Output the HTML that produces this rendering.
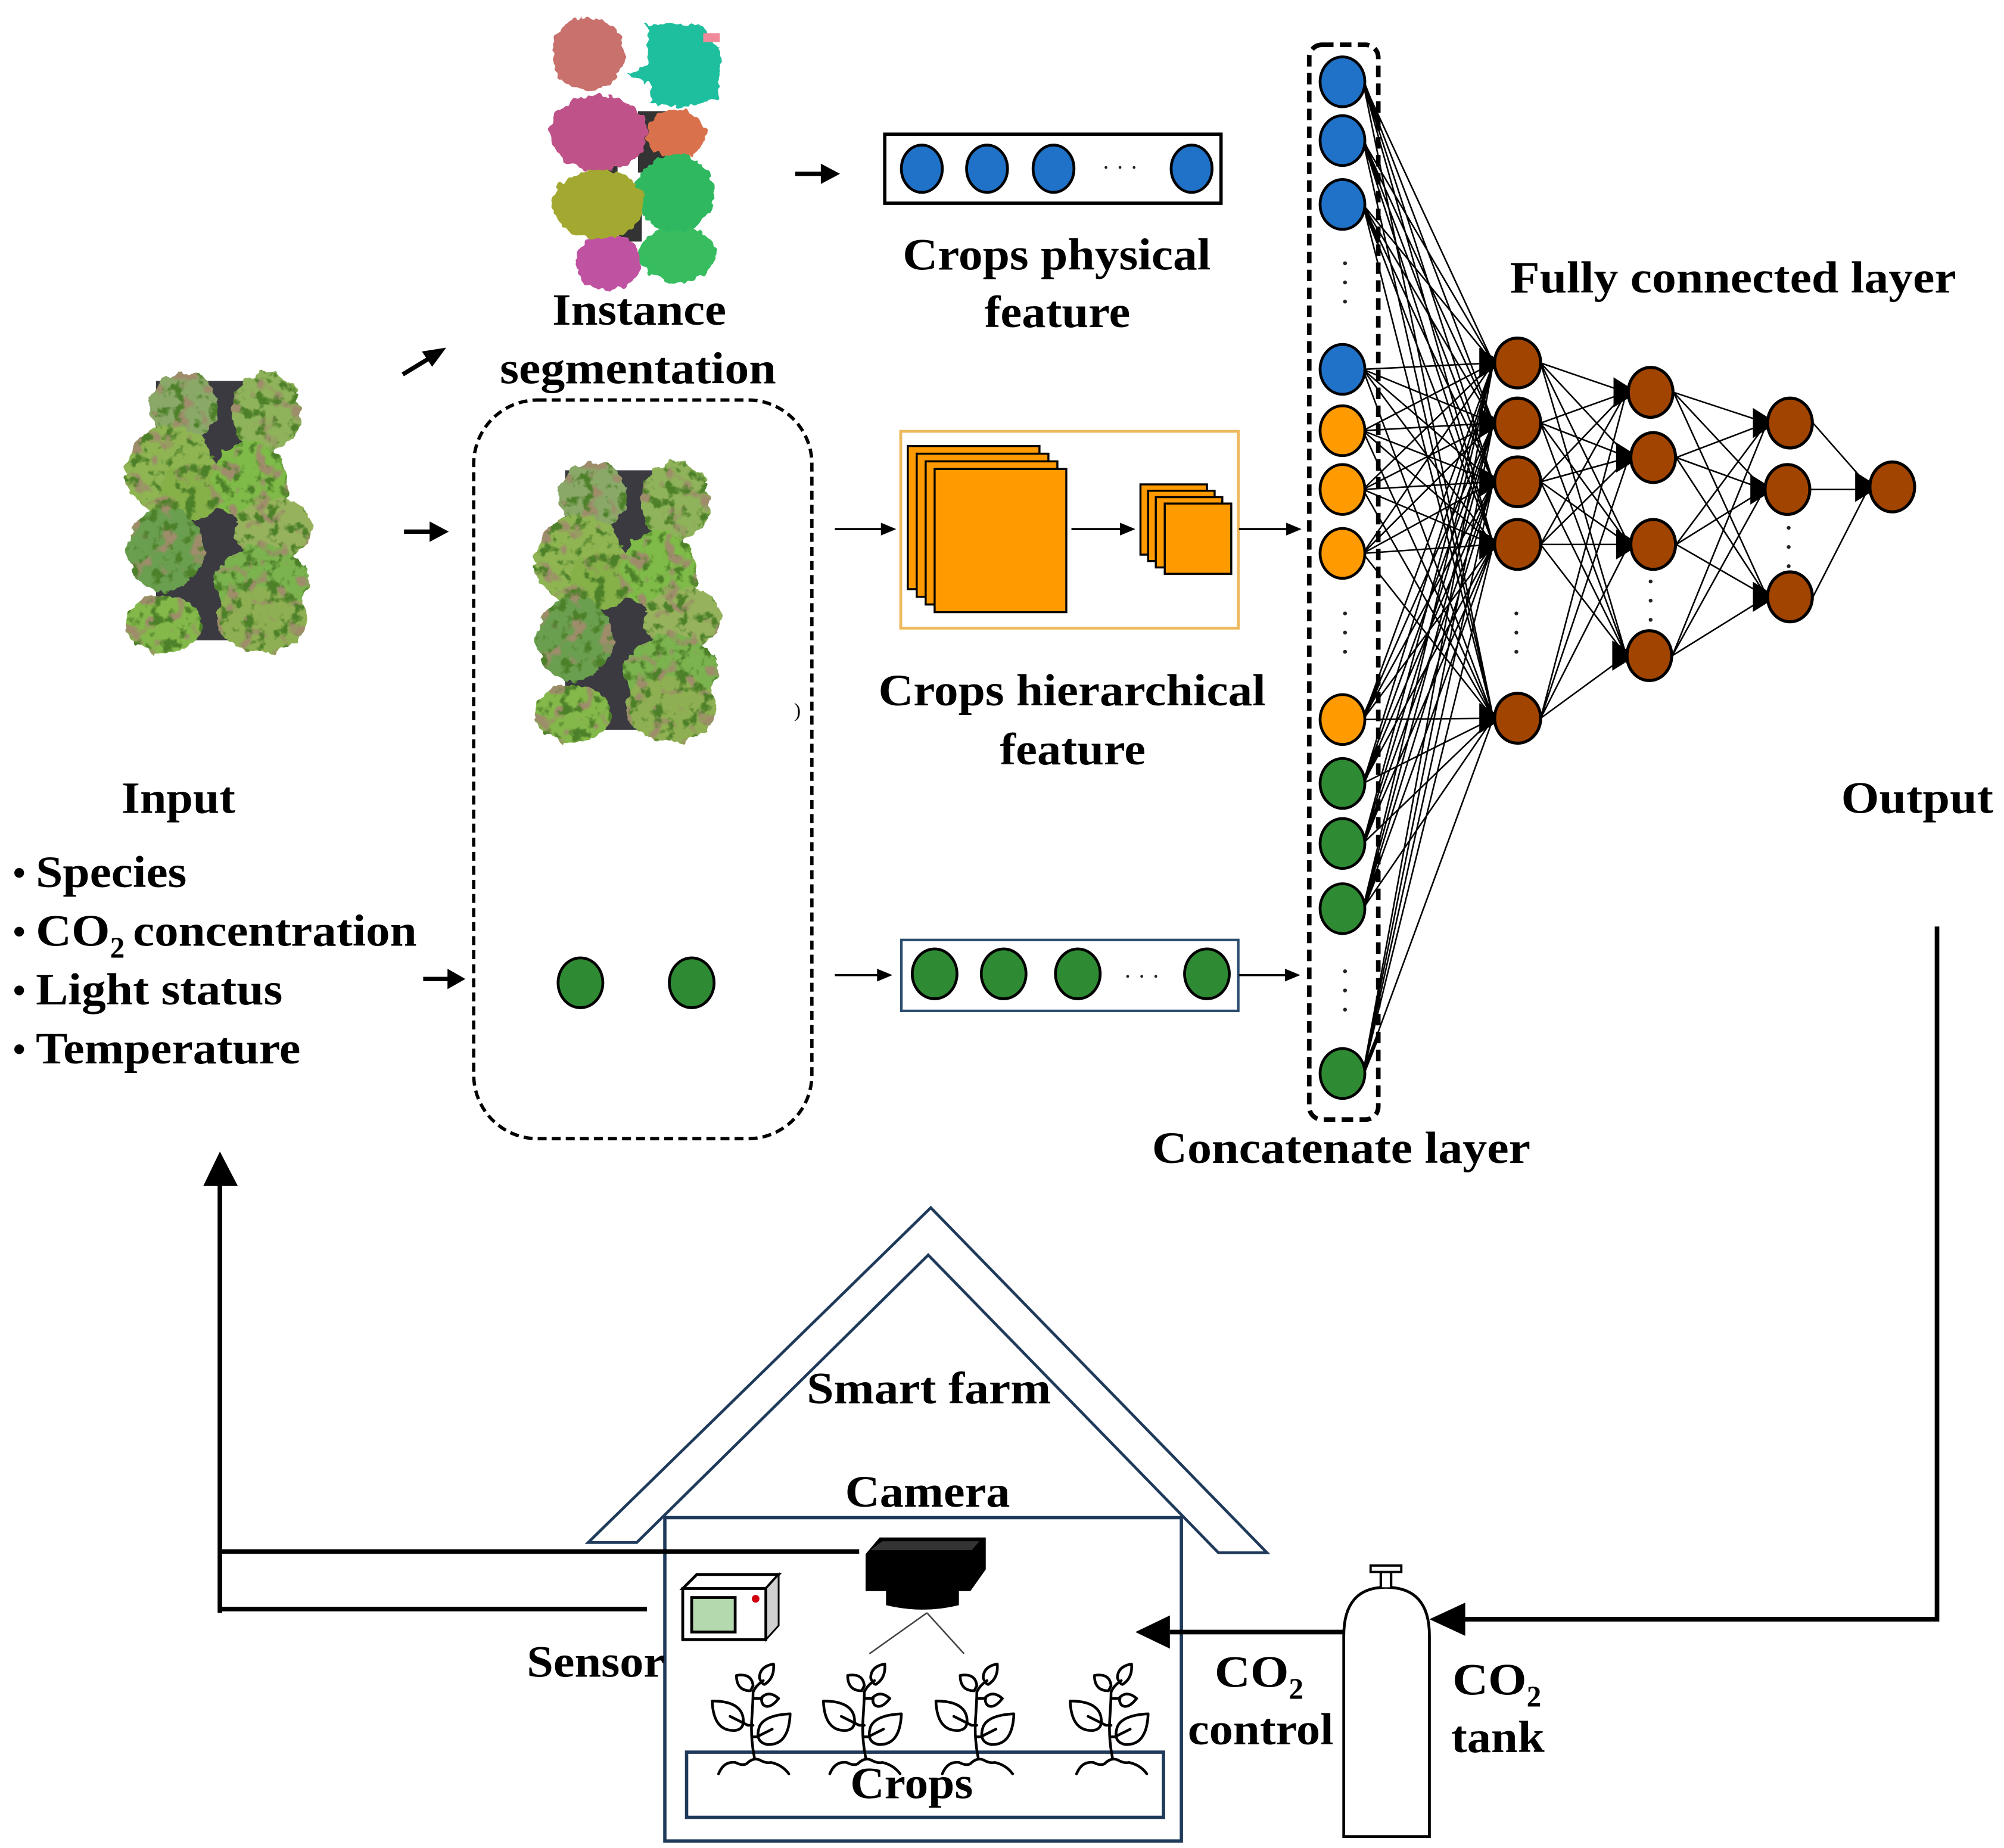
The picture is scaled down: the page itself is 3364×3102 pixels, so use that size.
<!DOCTYPE html>
<html><head><meta charset="utf-8"><style>
html,body{margin:0;padding:0;background:#fff}
svg{display:block}
text{font-family:"Liberation Serif",serif;font-weight:bold;font-size:35px;fill:#000}
.t{stroke:#000;stroke-width:3.6;fill:none}
.n{stroke:#000;stroke-width:1.2;fill:none}
.b{fill:#1f72c8;stroke:#000;stroke-width:2.2}
.o{fill:#ff9a00;stroke:#000;stroke-width:2.2}
.g{fill:#2f8a34;stroke:#000;stroke-width:2.2}
.r{fill:#a04400;stroke:#000;stroke-width:2.4}
.s{fill:#ff9a00;stroke:#000;stroke-width:1.6}
</style></head><body>
<svg xmlns="http://www.w3.org/2000/svg" width="3364" height="3102" viewBox="0 0 1567.4 1446" preserveAspectRatio="none">
<defs>
<filter id="leaf" x="-10%" y="-10%" width="120%" height="120%" color-interpolation-filters="sRGB">
<feTurbulence type="fractalNoise" baseFrequency=".11" numOctaves="3" seed="4" result="n"/>
<feDisplacementMap in="SourceGraphic" in2="n" scale="9" xChannelSelector="R" yChannelSelector="G" result="d"/>
<feColorMatrix in="n" type="matrix" values="0 0 0 0 .3  0 0 0 0 .5  0 0 0 0 .16  0 0 0 6 -3.2" result="dk"/>
<feComposite in="dk" in2="d" operator="in" result="dd"/>
<feTurbulence type="fractalNoise" baseFrequency=".08" numOctaves="2" seed="21" result="m"/>
<feColorMatrix in="m" type="matrix" values="0 0 0 0 .62  0 0 0 0 .55  0 0 0 0 .42  0 0 0 7 -3.9" result="br"/>
<feComposite in="br" in2="d" operator="in" result="bb"/>
<feMerge><feMergeNode in="d"/><feMergeNode in="bb"/><feMergeNode in="dd"/></feMerge>
</filter>
<filter id="seg" x="-10%" y="-10%" width="120%" height="120%" color-interpolation-filters="sRGB">
<feTurbulence type="fractalNoise" baseFrequency=".15" numOctaves="2" seed="7" result="n"/>
<feDisplacementMap in="SourceGraphic" in2="n" scale="7" xChannelSelector="R" yChannelSelector="G"/>
</filter>
<g id="lettuce">
<rect x="122" y="298" width="92" height="203" fill="#3a3a40"/>
<g filter="url(#leaf)">
<ellipse cx="144" cy="318" rx="27" ry="26" fill="#8aa868"/>
<ellipse cx="208" cy="322" rx="27" ry="31" fill="#8fb35a"/>
<ellipse cx="133" cy="368" rx="35" ry="35" fill="#8eb552"/>
<ellipse cx="150" cy="385" rx="24" ry="22" fill="#86b048"/>
<ellipse cx="195" cy="377" rx="30" ry="32" fill="#7fbb48"/>
<ellipse cx="214" cy="414" rx="30" ry="25" fill="#96b25c"/>
<ellipse cx="129" cy="430" rx="30" ry="33" fill="#6a9f4f"/>
<ellipse cx="205" cy="456" rx="36" ry="30" fill="#7bb34e"/>
<ellipse cx="205" cy="484" rx="36" ry="26" fill="#8eb052"/>
<ellipse cx="128" cy="488" rx="30" ry="23" fill="#84b84a"/>
</g>
</g>
<path id="ah" d="M-14-10L2 0L-14 10Z" fill="#000" stroke="#000" stroke-width="2"/>
<g id="plant" fill="none" stroke="#000" stroke-width="2.1" stroke-linejoin="round" stroke-linecap="round">
<path d="M0 0Q-3-15-2-30T-1-51Q1-56 7-60"/>
<path d="M-33-44Q-12-44-9-32Q-7-22-15-21Q-32-20-33-44Z"/>
<path d="M-19-32L-5-25H-1"/>
<path d="M28-34Q8-33 4-24Q0-12 10-10Q27-9 28-34Z"/>
<path d="M14-22L2-16H-1"/>
<path d="M15-73Q4-71 4-62Q6-57 8-57Q16-62 15-73Z"/>
<path d="M-14-64Q-2-66-1-56L-3-52Q-14-52-14-64Z"/>
<path d="M-1-46H5Q11-53 19-46Q12-37 7-41Q5-44 6-46"/>
<path d="M-28 13Q-24 3-15 4Q-9 7-6 5Q-1 0 4 2Q9 5 13 4Q22 6 27 13"/>
</g>
</defs>
<rect width="1568" height="1447" fill="#fff"/>

<!-- input lettuce -->
<use href="#lettuce"/>
<use href="#lettuce" x="320" y="70"/>

<!-- instance segmentation -->
<rect x="499" y="87" width="39" height="48" fill="#333"/>
<rect x="484" y="165" width="18" height="24" fill="#333"/>
<rect x="473" y="130" width="10" height="10" fill="#333"/>
<g filter="url(#seg)">
<ellipse cx="460" cy="42" rx="28" ry="29" fill="#c9716c"/>
<path d="M504 19H547L563 37V77L535 84L508 81V66L491 58L507 50V23Z" fill="#1dbf9f"/>
<ellipse cx="468" cy="104" rx="38" ry="30" fill="#bf5289"/>
<ellipse cx="529" cy="105" rx="23" ry="19" fill="#d9724c"/>
<ellipse cx="476" cy="205" rx="26" ry="22" fill="#c052a2"/>
<ellipse cx="530" cy="199" rx="30" ry="22" fill="#37bd60"/>
<ellipse cx="528" cy="151" rx="31" ry="30" fill="#2fb860"/>
<ellipse cx="468" cy="160" rx="36" ry="27" fill="#a3a830"/>
</g>
<rect x="550" y="26" width="13" height="7" fill="#f08a9a"/>

<!-- small arrows -->
<g fill="#000">
<path d="M315 293L338 279" stroke="#000" stroke-width="3.4"/><path d="M349 272L330 275L338 287Z"/>
<path d="M316 416H338" stroke="#000" stroke-width="3.4"/><path d="M351 416L336 408V424Z"/>
<path d="M331 766H352" stroke="#000" stroke-width="3.4"/><path d="M364 766L350 758V774Z"/>
<path d="M622 136H644" stroke="#000" stroke-width="3.4"/><path d="M657 136L642 128V144Z"/>
</g>

<!-- dashed box -->
<rect x="370.500" y="313" width="264.500" height="578" rx="50" fill="none" stroke="#000" stroke-width="2.6" stroke-dasharray="7 4"/>
<ellipse cx="454" cy="769" rx="17.500" ry="19.500" class="g"/>
<ellipse cx="541" cy="769" rx="17.500" ry="19.500" class="g"/>
<text x="621" y="561" style="font-size:16px;font-weight:normal">)</text>

<!-- physical feature -->
<rect x="692" y="105" width="263" height="54" fill="#fff" stroke="#000" stroke-width="2.6"/>
<ellipse cx="721" cy="132" rx="16" ry="18.500" class="b"/>
<ellipse cx="772" cy="132" rx="16" ry="18.500" class="b"/>
<ellipse cx="824" cy="132" rx="16" ry="18.500" class="b"/>
<ellipse cx="932" cy="132" rx="16" ry="18.500" class="b"/>
<g fill="#222"><circle cx="865" cy="131" r="1.1"/><circle cx="876" cy="131" r="1.1"/><circle cx="887" cy="131" r="1.1"/></g>

<!-- hierarchical -->
<rect x="704.500" y="337.500" width="264" height="154" fill="#fff" stroke="#edb95c" stroke-width="2.2"/>
<rect x="710" y="349" width="103" height="112" class="s"/>
<rect x="717" y="355" width="103" height="112" class="s"/>
<rect x="724" y="361" width="103" height="112" class="s"/>
<rect x="731" y="367" width="103" height="112" class="s"/>
<rect x="892" y="379" width="52" height="55" class="s"/>
<rect x="898" y="384" width="52" height="55" class="s"/>
<rect x="904" y="389" width="52" height="55" class="s"/>
<rect x="911" y="394" width="52" height="55" class="s"/>

<!-- green feature -->
<rect x="705" y="735.500" width="263.500" height="55.500" fill="#fff" stroke="#2c4d6e" stroke-width="2"/>
<ellipse cx="731" cy="762" rx="17.500" ry="19.500" class="g"/>
<ellipse cx="785" cy="762" rx="17.500" ry="19.500" class="g"/>
<ellipse cx="843" cy="762" rx="17.500" ry="19.500" class="g"/>
<ellipse cx="944" cy="762" rx="17.500" ry="19.500" class="g"/>
<g fill="#222"><circle cx="882" cy="764" r="1.1"/><circle cx="893" cy="764" r="1.1"/><circle cx="904" cy="764" r="1.1"/></g>

<g fill="#000">
<path d="M653 414H690" stroke="#000" stroke-width="1.7"/><path d="M701 414L689 409V419Z"/>
<path d="M838 414H877" stroke="#000" stroke-width="1.7"/><path d="M888 414L876 409V419Z"/>
<path d="M969 414H1007" stroke="#000" stroke-width="1.7"/><path d="M1018 414L1006 409V419Z"/>
<path d="M653 763H687" stroke="#000" stroke-width="1.7"/><path d="M698 763L686 758V768Z"/>
<path d="M969 763H1006" stroke="#000" stroke-width="1.7"/><path d="M1017 763L1005 758V768Z"/>
</g>

<!-- concat dashed -->
<rect x="1024" y="35" width="54" height="841" rx="10" fill="none" stroke="#000" stroke-width="3.6" stroke-dasharray="9 5"/>

<!-- connections -->
<path class="n" d="M1168 284L1066 64M1168 284L1066 110M1168 284L1066 160M1168 284L1066 289M1168 284L1066 337M1168 284L1066 383M1168 284L1066 433M1168 284L1066 563M1168 284L1066 613M1168 284L1066 660M1168 284L1066 711M1168 284L1066 840
M1168 331L1066 64M1168 331L1066 110M1168 331L1066 160M1168 331L1066 289M1168 331L1066 337M1168 331L1066 383M1168 331L1066 433M1168 331L1066 563M1168 331L1066 613M1168 331L1066 660M1168 331L1066 711M1168 331L1066 840
M1168 377L1066 64M1168 377L1066 110M1168 377L1066 160M1168 377L1066 289M1168 377L1066 337M1168 377L1066 383M1168 377L1066 433M1168 377L1066 563M1168 377L1066 613M1168 377L1066 660M1168 377L1066 711M1168 377L1066 840
M1168 426L1066 64M1168 426L1066 110M1168 426L1066 160M1168 426L1066 289M1168 426L1066 337M1168 426L1066 383M1168 426L1066 433M1168 426L1066 563M1168 426L1066 613M1168 426L1066 660M1168 426L1066 711M1168 426L1066 840
M1168 562L1066 64M1168 562L1066 110M1168 562L1066 160M1168 562L1066 289M1168 562L1066 337M1168 562L1066 383M1168 562L1066 433M1168 562L1066 563M1168 562L1066 613M1168 562L1066 660M1168 562L1066 711M1168 562L1066 840"/>
<path class="n" d="M1205 284L1272 307M1205 284L1274 358M1205 284L1274 426M1205 284L1272 513
M1205 331L1272 307M1205 331L1274 358M1205 331L1274 426M1205 331L1272 513
M1205 377L1272 307M1205 377L1274 358M1205 377L1274 426M1205 377L1272 513
M1205 426L1272 307M1205 426L1274 358M1205 426L1274 426M1205 426L1272 513
M1205 562L1272 307M1205 562L1274 358M1205 562L1274 426M1205 562L1272 513"/>
<path class="n" d="M1309 307L1382 331M1309 307L1380 383M1309 307L1382 467
M1311 358L1382 331M1311 358L1380 383M1311 358L1382 467
M1311 426L1382 331M1311 426L1380 383M1311 426L1382 467
M1308 513L1382 331M1308 513L1380 383M1308 513L1382 467"/>
<path class="n" d="M1418 331L1462 381M1416 383H1462M1418 467L1462 381"/>
<path d="M1066 64L1078 95M1066 110L1078 140M1066 160L1078 190M1066 840L1078 810M1066 711L1078 680M1066 660L1078 630M1066 613L1078 585M1066 563L1078 535" stroke="#000" stroke-width="3" fill="none"/>

<!-- arrowheads -->
<use href="#ah" x="1172" y="284"/><use href="#ah" x="1172" y="331"/><use href="#ah" x="1172" y="377"/><use href="#ah" x="1172" y="426"/><use href="#ah" x="1172" y="562"/>
<use href="#ah" x="1277" y="307"/><use href="#ah" x="1279" y="358"/><use href="#ah" x="1279" y="426"/><use href="#ah" x="1276" y="513"/>
<use href="#ah" x="1386" y="331"/><use href="#ah" x="1384" y="383"/><use href="#ah" x="1386" y="467"/>
<use href="#ah" x="1466" y="381"/>

<!-- concat nodes -->
<ellipse cx="1050" cy="64" rx="17.500" ry="19.500" class="b"/>
<ellipse cx="1050" cy="110" rx="17.500" ry="19.500" class="b"/>
<ellipse cx="1050" cy="160" rx="17.500" ry="19.500" class="b"/>
<ellipse cx="1050" cy="289" rx="17.500" ry="19.500" class="b"/>
<ellipse cx="1050" cy="337" rx="17.500" ry="19.500" class="o"/>
<ellipse cx="1050" cy="383" rx="17.500" ry="19.500" class="o"/>
<ellipse cx="1050" cy="433" rx="17.500" ry="19.500" class="o"/>
<ellipse cx="1050" cy="563" rx="17.500" ry="19.500" class="o"/>
<ellipse cx="1050" cy="613" rx="17.500" ry="19.500" class="g"/>
<ellipse cx="1050" cy="660" rx="17.500" ry="19.500" class="g"/>
<ellipse cx="1050" cy="711" rx="17.500" ry="19.500" class="g"/>
<ellipse cx="1050" cy="840" rx="17.500" ry="19.500" class="g"/>
<g fill="#222">
<circle cx="1052" cy="206" r="1.5"/><circle cx="1052" cy="221" r="1.5"/><circle cx="1052" cy="236" r="1.5"/>
<circle cx="1052" cy="480" r="1.5"/><circle cx="1052" cy="495" r="1.5"/><circle cx="1052" cy="510" r="1.5"/>
<circle cx="1052" cy="760" r="1.5"/><circle cx="1052" cy="775" r="1.5"/><circle cx="1052" cy="790" r="1.5"/>
<circle cx="1186" cy="480" r="1.5"/><circle cx="1186" cy="495" r="1.5"/><circle cx="1186" cy="510" r="1.5"/>
<circle cx="1291" cy="455" r="1.5"/><circle cx="1291" cy="470" r="1.5"/><circle cx="1291" cy="485" r="1.5"/>
<circle cx="1399" cy="413" r="1.5"/><circle cx="1399" cy="428" r="1.5"/><circle cx="1399" cy="443" r="1.5"/>
</g>

<!-- FC nodes -->
<ellipse cx="1187" cy="284" rx="18" ry="19.500" class="r"/>
<ellipse cx="1187" cy="331" rx="18" ry="19.500" class="r"/>
<ellipse cx="1187" cy="377" rx="18" ry="19.500" class="r"/>
<ellipse cx="1187" cy="426" rx="18" ry="19.500" class="r"/>
<ellipse cx="1187" cy="562" rx="18" ry="19.500" class="r"/>
<ellipse cx="1291" cy="307" rx="17.500" ry="19.500" class="r"/>
<ellipse cx="1293" cy="358" rx="17.500" ry="19.500" class="r"/>
<ellipse cx="1293" cy="426" rx="17.500" ry="19.500" class="r"/>
<ellipse cx="1290" cy="513" rx="17.500" ry="19.500" class="r"/>
<ellipse cx="1400" cy="331" rx="17.500" ry="19.500" class="r"/>
<ellipse cx="1398" cy="383" rx="17.500" ry="19.500" class="r"/>
<ellipse cx="1400" cy="467" rx="17.500" ry="19.500" class="r"/>
<ellipse cx="1480" cy="381" rx="17.500" ry="19.500" class="r"/>

<!-- feedback lines -->
<path class="t" d="M1515 725V1267H1140"/>
<path d="M1118 1267L1146 1254V1280Z" fill="#000"/>
<path class="t" d="M172 1262V925M172 1214H672M172 1259H506"/>
<path d="M172 901L159 928H186Z" fill="#000"/>

<!-- house -->
<path d="M728 945L991 1215H953L726 982L498 1207H460Z" fill="#fff" stroke="#1f3a5a" stroke-width="2.2" stroke-linejoin="miter"/>
<rect x="520" y="1187.500" width="404" height="253" fill="#fff" stroke="#1f3a5a" stroke-width="2.6"/>
<rect x="537" y="1371" width="373" height="51" fill="none" stroke="#1f3a5a" stroke-width="2.6"/>
<path class="t" d="M172 1214H672"/>
<path d="M915 1277H1051" stroke="#000" stroke-width="3.6"/>
<path d="M888 1277L915 1264V1290Z" fill="#000"/>

<!-- camera -->
<path d="M677 1216L688 1203H771V1228L759 1245H750V1256Q722 1263 693 1256V1245H677Z" fill="#000"/>
<path d="M681 1213L690 1206H766L760 1213Z" fill="#333"/>
<path d="M725 1262L680 1294M725 1262L754 1294" stroke="#444" stroke-width="1.2" fill="none"/>

<!-- sensor -->
<path d="M534 1243L545 1232H609L599 1243Z" fill="#fff" stroke="#000" stroke-width="2.2"/>
<path d="M599 1243L609 1232V1272L599 1283Z" fill="#d0d0d0" stroke="#000" stroke-width="1.4"/>
<rect x="534" y="1243" width="65" height="40" fill="#fff" stroke="#000" stroke-width="2.2"/>
<rect x="541" y="1250" width="34" height="27" fill="#b5d9ae" stroke="#000" stroke-width="2.2"/>
<circle cx="591" cy="1251" r="3" fill="#d00010"/>

<!-- plants -->
<use href="#plant" x="590" y="1375"/>
<use href="#plant" x="677" y="1375"/>
<use href="#plant" x="765" y="1375"/>
<use href="#plant" x="870" y="1375"/>

<!-- tank -->
<path d="M1051 1437V1280Q1051 1242 1084 1242Q1118 1242 1118 1280V1437Z" fill="#fff" stroke="#000" stroke-width="2.2"/>
<path d="M1080 1242V1230H1088V1242" fill="#fff" stroke="#000" stroke-width="2"/>
<rect x="1072" y="1225" width="24" height="5" fill="#fff" stroke="#000" stroke-width="1.8"/>

<!-- labels -->
<text x="432" y="254" textLength="136" lengthAdjust="spacingAndGlyphs">Instance</text>
<text x="391" y="300" textLength="216" lengthAdjust="spacingAndGlyphs">segmentation</text>
<text x="706" y="211" textLength="241" lengthAdjust="spacingAndGlyphs">Crops physical</text>
<text x="770" y="256" textLength="114" lengthAdjust="spacingAndGlyphs">feature</text>
<text x="1181" y="229" textLength="349" lengthAdjust="spacingAndGlyphs">Fully connected layer</text>
<text x="687" y="552" textLength="303" lengthAdjust="spacingAndGlyphs">Crops hierarchical</text>
<text x="782" y="598" textLength="114" lengthAdjust="spacingAndGlyphs">feature</text>
<text x="95" y="636" textLength="89" lengthAdjust="spacingAndGlyphs">Input</text>
<text x="1440" y="636" textLength="119" lengthAdjust="spacingAndGlyphs">Output</text>
<text x="901" y="910" textLength="296" lengthAdjust="spacingAndGlyphs">Concatenate layer</text>
<circle cx="15" cy="683" r="3.800"/><circle cx="15" cy="729" r="3.800"/><circle cx="15" cy="775" r="3.800"/><circle cx="15" cy="821" r="3.800"/>
<text x="28" y="694" textLength="118" lengthAdjust="spacingAndGlyphs">Species</text>
<text x="28" y="740" textLength="58" lengthAdjust="spacingAndGlyphs">CO</text>
<text x="86" y="749" style="font-size:23px">2</text>
<text x="104" y="740" textLength="222" lengthAdjust="spacingAndGlyphs">concentration</text>
<text x="28" y="786" textLength="193" lengthAdjust="spacingAndGlyphs">Light status</text>
<text x="28" y="832" textLength="207" lengthAdjust="spacingAndGlyphs">Temperature</text>
<text x="631" y="1098" textLength="191" lengthAdjust="spacingAndGlyphs">Smart farm</text>
<text x="661" y="1179" textLength="129" lengthAdjust="spacingAndGlyphs">Camera</text>
<text x="412" y="1312" textLength="108" lengthAdjust="spacingAndGlyphs">Sensor</text>
<text x="950" y="1320" textLength="58" lengthAdjust="spacingAndGlyphs">CO</text>
<text x="1008" y="1329" style="font-size:23px">2</text>
<text x="929" y="1365" textLength="114" lengthAdjust="spacingAndGlyphs">control</text>
<text x="1136" y="1326" textLength="58" lengthAdjust="spacingAndGlyphs">CO</text>
<text x="1194" y="1335" style="font-size:23px">2</text>
<text x="1135" y="1371" textLength="73" lengthAdjust="spacingAndGlyphs">tank</text>
<text x="665" y="1407" textLength="96" lengthAdjust="spacingAndGlyphs">Crops</text>
</svg>
</body></html>
